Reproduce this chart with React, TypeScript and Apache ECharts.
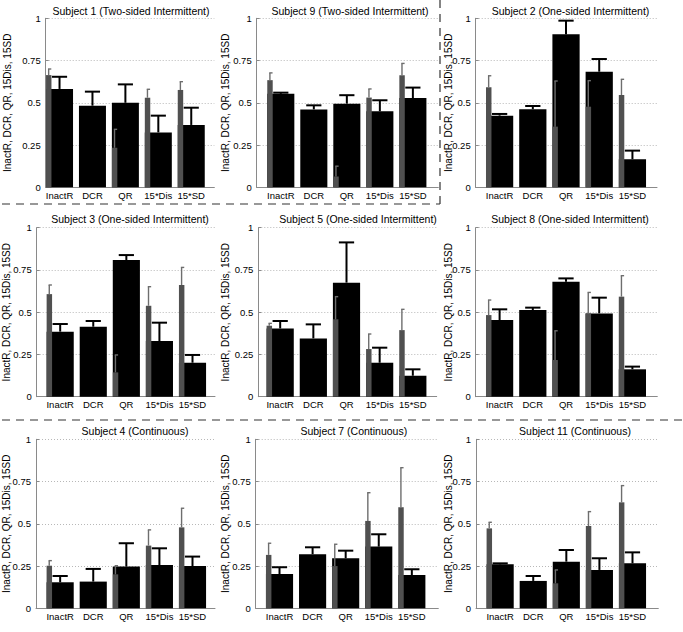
import React, { useEffect, useRef } from 'react';
import * as echarts from 'echarts';

const categories = ['InactR', 'DCR', 'QR', '15*Dis', '15*SD'];
const yAxisTitle = 'InactR, DCR, QR, 15Dis, 15SD';

const titles = [
  'Subject 1 (Two-sided Intermittent)',
  'Subject 9 (Two-sided Intermittent)',
  'Subject 2 (One-sided Intermittent)',
  'Subject 3 (One-sided Intermittent)',
  'Subject 5 (One-sided Intermittent)',
  'Subject 8 (One-sided Intermittent)',
  'Subject 4 (Continuous)',
  'Subject 7 (Continuous)',
  'Subject 11 (Continuous)',
];

// gray (narrow) bars and their upper error, black (wide) bars and their upper error
const subject1Gray = [0.664, null, 0.234, 0.53, 0.576];
const subject1GrayErr = [0.036, null, 0.109, 0.05, 0.049];
const subject1Black = [0.582, 0.483, 0.5, 0.325, 0.369];
const subject1BlackErr = [0.072, 0.083, 0.109, 0.099, 0.102];

const subject9Gray = [0.634, null, 0.064, 0.531, 0.663];
const subject9GrayErr = [0.043, null, 0.061, 0.051, 0.07];
const subject9Black = [0.553, 0.461, 0.495, 0.45, 0.528];
const subject9BlackErr = [0.007, 0.024, 0.05, 0.065, 0.062];

const subject2Gray = [0.592, null, 0.359, 0.477, 0.546];
const subject2GrayErr = [0.068, null, 0.27, 0.154, 0.093];
const subject2Black = [0.424, 0.462, 0.905, 0.684, 0.166];
const subject2BlackErr = [0.01, 0.019, 0.081, 0.075, 0.051];

const subject3Gray = [0.607, null, 0.144, 0.538, 0.661];
const subject3GrayErr = [0.054, null, 0.103, 0.113, 0.104];
const subject3Black = [0.385, 0.414, 0.809, 0.329, 0.201];
const subject3BlackErr = [0.045, 0.034, 0.029, 0.109, 0.046];

const subject5Gray = [0.42, null, 0.458, 0.282, 0.394];
const subject5GrayErr = [0.014, null, 0.134, 0.089, 0.123];
const subject5Black = [0.404, 0.345, 0.675, 0.201, 0.124];
const subject5BlackErr = [0.044, 0.083, 0.238, 0.089, 0.038];

const subject8Gray = [0.483, null, 0.217, 0.493, 0.592];
const subject8GrayErr = [0.089, null, 0.173, 0.124, 0.124];
const subject8Black = [0.454, 0.513, 0.68, 0.493, 0.162];
const subject8BlackErr = [0.063, 0.014, 0.02, 0.093, 0.016];

const subject4Gray = [0.252, null, 0.201, 0.371, 0.479];
const subject4GrayErr = [0.03, null, 0.051, 0.093, 0.113];
const subject4Black = [0.154, 0.158, 0.247, 0.256, 0.25];
const subject4BlackErr = [0.037, 0.075, 0.138, 0.099, 0.056];

const subject7Gray = [0.316, null, 0.25, 0.517, 0.598];
const subject7GrayErr = [0.069, null, 0.129, 0.167, 0.234];
const subject7Black = [0.203, 0.32, 0.296, 0.365, 0.197];
const subject7BlackErr = [0.04, 0.041, 0.045, 0.073, 0.034];

const subject11Gray = [0.473, null, 0.148, 0.487, 0.627];
const subject11GrayErr = [0.036, null, 0.079, 0.085, 0.099];
const subject11Black = [0.26, 0.162, 0.276, 0.227, 0.266];
const subject11BlackErr = [0.006, 0.029, 0.069, 0.069, 0.065];

const panelData = [
  [subject1Gray, subject1GrayErr, subject1Black, subject1BlackErr],
  [subject9Gray, subject9GrayErr, subject9Black, subject9BlackErr],
  [subject2Gray, subject2GrayErr, subject2Black, subject2BlackErr],
  [subject3Gray, subject3GrayErr, subject3Black, subject3BlackErr],
  [subject5Gray, subject5GrayErr, subject5Black, subject5BlackErr],
  [subject8Gray, subject8GrayErr, subject8Black, subject8BlackErr],
  [subject4Gray, subject4GrayErr, subject4Black, subject4BlackErr],
  [subject7Gray, subject7GrayErr, subject7Black, subject7BlackErr],
  [subject11Gray, subject11GrayErr, subject11Black, subject11BlackErr],
];

// layout: left, right, top, bottom, xMin, xMax, titleX, titleY, nameX
const layout = [
  [45.7, 214.3, 18.3, 187.3, 0.58, 5.7, 131, 10.5, 7],
  [256.7, 438.3, 18.3, 187.3, 0.27, 5.77, 350, 10.5, 225.5],
  [475.7, 657, 18.3, 187.3, 0.28, 5.74, 570.5, 10.5, 448],
  [36.7, 215, 227.7, 396.7, 0.29, 5.68, 130, 218.5, 6.7],
  [258.3, 436.7, 227.7, 396.7, 0.34, 5.72, 358, 218.5, 225],
  [475.7, 657.3, 227.7, 396.7, 0.28, 5.75, 570, 218.5, 448],
  [36, 215, 439.3, 608.3, 0.27, 5.68, 135, 430.8, 6.7],
  [255.7, 438.3, 439.3, 608.3, 0.28, 5.8, 353.8, 430.8, 225],
  [476, 658.3, 439.3, 608.3, 0.27, 5.78, 575, 430.8, 448],
];

const W = 683;
const H = 632;
const FONT = '"Liberation Sans", Arial, Helvetica, sans-serif';
const AXIS_GRAY = '#8a8a8a';

function isNum(v: any) {
  return v !== null && v !== undefined && !isNaN(v);
}

function renderItem(params: any, api: any) {
  const i = api.value(0);
  const g = api.value(1);
  const ge = api.value(2);
  const b = api.value(3);
  const be = api.value(4);
  const X = (v: number) => api.coord([v, 0])[0];
  const Y = (v: number) => api.coord([i, v])[1];
  const y0 = Y(0);
  const children: any[] = [];
  const bl = X(i - 0.41);
  const br = X(i + 0.41);
  if (isNum(b)) {
    const yb = Y(b);
    children.push({ type: 'rect', shape: { x: bl, y: yb, width: br - bl, height: y0 - yb }, style: { fill: '#000' } });
    if (isNum(be)) {
      const yt = Y(b + be);
      const xc = X(i);
      children.push({ type: 'line', shape: { x1: xc, y1: yb, x2: xc, y2: yt }, style: { stroke: '#000', lineWidth: 2 } });
      children.push({ type: 'line', shape: { x1: X(i - 0.23), y1: yt, x2: X(i + 0.23), y2: yt }, style: { stroke: '#000', lineWidth: 2 } });
    }
  }
  if (isNum(g)) {
    const yg = Y(g);
    const gr = X(i - 0.245);
    children.push({ type: 'rect', shape: { x: bl, y: yg, width: gr - bl, height: y0 - yg }, style: { fill: '#505050' } });
    if (isNum(ge)) {
      const yt = Y(g + ge);
      const xc = X(i - 0.33);
      children.push({ type: 'line', shape: { x1: xc, y1: yg, x2: xc, y2: yt }, style: { stroke: '#6e6e6e', lineWidth: 1.4 } });
      children.push({ type: 'line', shape: { x1: xc - 0.7, y1: yt, x2: X(i - 0.25), y2: yt }, style: { stroke: '#6e6e6e', lineWidth: 1.4 } });
    }
  }
  return { type: 'group', children };
}

export default function App() {
  const ref = useRef<HTMLDivElement>(null);
  useEffect(() => {
    if (!ref.current) return;
    const chart = echarts.init(ref.current, undefined, { renderer: 'svg', width: W, height: H });
    const grids: any[] = [];
    const xAxes: any[] = [];
    const yAxes: any[] = [];
    const series: any[] = [];
    const graphics: any[] = [];
    layout.forEach((L, k) => {
      const [left, right, top, bottom, xMin, xMax, tx, ty, nx] = L;
      grids.push({ left, top, width: right - left, height: bottom - top, containLabel: false });
      xAxes.push({
        type: 'value',
        gridIndex: k,
        min: xMin,
        max: xMax,
        axisLine: { show: true, onZero: false, lineStyle: { color: AXIS_GRAY, width: 1 } },
        axisTick: { show: false },
        splitLine: { show: false },
        axisLabel: {
          customValues: [1, 2, 3, 4, 5],
          formatter: (v: number) => categories[Math.round(v) - 1] ?? '',
          color: '#000',
          fontSize: 9.5,
          fontFamily: FONT,
          margin: 3,
        },
      });
      yAxes.push({
        type: 'value',
        gridIndex: k,
        min: 0,
        max: 1,
        interval: 0.25,
        axisLine: { show: true, onZero: false, lineStyle: { color: AXIS_GRAY, width: 1 } },
        axisTick: { show: true, inside: true, length: 3, lineStyle: { color: AXIS_GRAY } },
        splitLine: { show: true, lineStyle: { color: '#b8b8b8', type: [1, 2], width: 1 } },
        axisLabel: { color: '#000', fontSize: 9.5, fontFamily: FONT, margin: 5 },
      });
      const [gray, grayErr, black, blackErr] = panelData[k];
      const data = categories.map((_, j) => [j + 1, gray[j], grayErr[j], black[j], blackErr[j]]);
      series.push({
        type: 'custom',
        xAxisIndex: k,
        yAxisIndex: k,
        renderItem,
        data,
        encode: { x: 0, y: 3 },
        clip: false,
      });
      graphics.push({
        type: 'text',
        x: tx,
        y: ty,
        style: { text: titles[k], align: 'center', verticalAlign: 'middle', fontSize: 10.5, fontFamily: FONT, fill: '#000' },
      });
      graphics.push({
        type: 'text',
        x: nx,
        y: (top + bottom) / 2,
        rotation: Math.PI / 2,
        style: { text: yAxisTitle, align: 'center', verticalAlign: 'middle', fontSize: 10, fontFamily: FONT, fill: '#000' },
      });
    });
    const dash = { stroke: '#333', lineWidth: 1.2, lineDash: [8, 6] };
    graphics.push({ type: 'line', shape: { x1: 2, y1: 204, x2: 440, y2: 204 }, style: dash });
    graphics.push({ type: 'line', shape: { x1: 440, y1: 0, x2: 440, y2: 204 }, style: dash });
    graphics.push({ type: 'line', shape: { x1: 2, y1: 420, x2: 683, y2: 420 }, style: dash });

    chart.setOption({
      animation: false,
      backgroundColor: '#fff',
      grid: grids,
      xAxis: xAxes,
      yAxis: yAxes,
      series,
      graphic: graphics,
    });
    return () => chart.dispose();
  }, []);
  return <div ref={ref} style={{ position: 'fixed', left: 0, top: 0, width: W, height: H, background: '#fff' }} />;
}
